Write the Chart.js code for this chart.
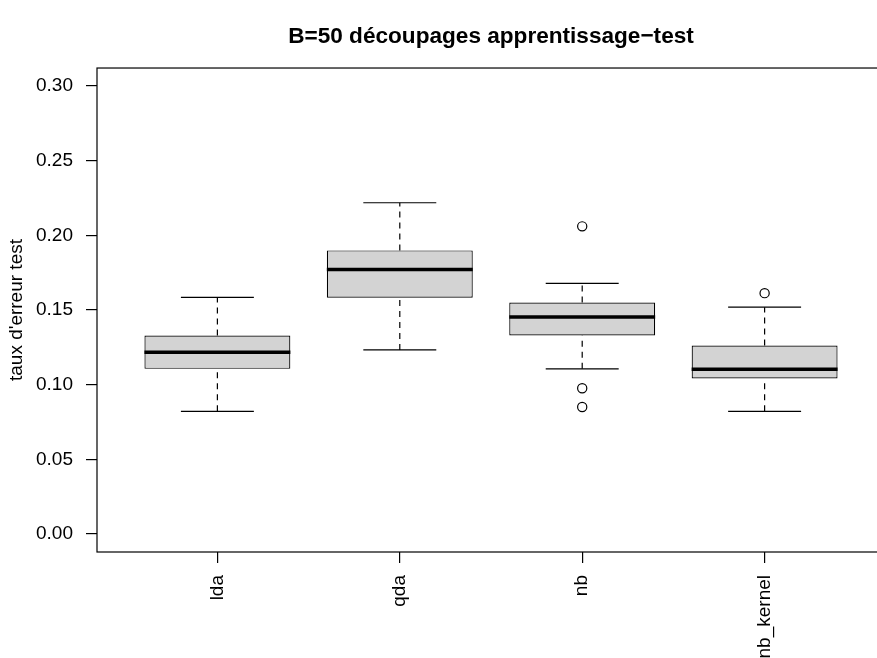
<!DOCTYPE html>
<html>
<head>
<meta charset="utf-8">
<script src="https://cdn.jsdelivr.net/npm/chart.js@4/dist/chart.umd.min.js"></script>
<style>
  html, body { margin: 0; padding: 0; background: #fff; overflow: hidden; }
  #wrap { width: 877px; height: 658px; overflow: hidden; }
</style>
</head>
<body>
<div id="wrap"><canvas id="box" width="900" height="700"></canvas></div>
<script>
'use strict';

// ─── 데이터 ─────────────────────────────────────────
const groups   = ['lda', 'qda', 'nb', 'nb_kernel'];
const whiskLo  = [0.0822, 0.1233, 0.1106, 0.0822];
const q1       = [0.1106, 0.1582, 0.1329, 0.1041];
const medians  = [0.1218, 0.1771, 0.1454, 0.1104];
const q3       = [0.1329, 0.1899, 0.1550, 0.1262];
const whiskHi  = [0.1584, 0.2218, 0.1678, 0.1519];
const outliers = [[], [], [0.2060, 0.0976, 0.0851], [0.1613]];
const yTicks   = [0.00, 0.05, 0.10, 0.15, 0.20, 0.25, 0.30];

// ─── 스타일 ───────────────────────────────────────────────
const FONT = 'Liberation Sans, Arial, Helvetica, sans-serif';
const FS = 19;
const BOX_HALF = 0.4;
const CAP_HALF = 0.2;

function seg(data, width, dash) {
  return {
    type: 'line', data, borderColor: '#000', borderWidth: width,
    borderDash: dash || [], pointRadius: 0, fill: false, tension: 0, order: 1
  };
}

const datasets = [{
  type: 'bar',
  data: groups.map((g, i) => ({ x: i + 1, y: [q1[i], q3[i]] })),
  backgroundColor: '#d3d3d3',
  borderColor: '#000',
  borderWidth: 1.2,
  borderSkipped: false,
  barPercentage: 2 * BOX_HALF,
  categoryPercentage: 1,
  order: 3
}];

groups.forEach((g, i) => {
  const x = i + 1;
  datasets.push(seg([{ x, y: q3[i] }, { x, y: whiskHi[i] }], 1.2, [6, 5]));
  datasets.push(seg([{ x, y: whiskLo[i] }, { x, y: q1[i] }], 1.2, [6, 5]));
  datasets.push(seg([{ x: x - CAP_HALF, y: whiskHi[i] }, { x: x + CAP_HALF, y: whiskHi[i] }], 1.2));
  datasets.push(seg([{ x: x - CAP_HALF, y: whiskLo[i] }, { x: x + CAP_HALF, y: whiskLo[i] }], 1.2));
  const m = seg([{ x: x - BOX_HALF, y: medians[i] }, { x: x + BOX_HALF, y: medians[i] }], 3.5);
  m.order = 0;
  datasets.push(m);
});

const outPts = [];
outliers.forEach((arr, i) => arr.forEach(v => outPts.push({ x: i + 1, y: v })));
datasets.push({
  type: 'line', data: outPts, showLine: false,
  pointRadius: 4.6, pointBorderColor: '#000', pointBackgroundColor: 'rgba(0,0,0,0)',
  pointBorderWidth: 1.2, order: 0
});

// 플롯 테두리
const plotBox = {
  id: 'plotBox',
  afterDraw(chart) {
    const { ctx, chartArea: a } = chart;
    ctx.save();
    ctx.strokeStyle = '#000';
    ctx.lineWidth = 1.2;
    ctx.strokeRect(a.left, a.top, a.right - a.left, a.bottom - a.top);
    ctx.restore();
  }
};

const tickGrid = {
  drawOnChartArea: false, drawTicks: true, tickLength: 11,
  color: '#000', lineWidth: 1.2, offset: false
};

new Chart(document.getElementById('box'), {
  type: 'bar',
  data: { datasets },
  plugins: [plotBox],
  options: {
    responsive: false,
    animation: false,
    devicePixelRatio: 1,
    layout: { padding: { left: 0, right: 15, top: 0, bottom: 0 } },
    plugins: {
      legend: { display: false },
      tooltip: { enabled: false },
      title: {
        display: true,
        fullSize: false,
        text: 'B=50 découpages apprentissage−test',
        color: '#000',
        font: { family: FONT, size: 22.6, weight: 'bold', lineHeight: 1.2 },
        padding: { top: 23.5, bottom: 17.4 }
      }
    },
    scales: {
      x: {
        type: 'linear',
        offset: false,
        min: 0.34,
        max: 4.66,
        afterBuildTicks: s => { s.ticks = groups.map((g, i) => ({ value: i + 1 })); },
        afterFit: s => { s.height = 148; },
        ticks: {
          autoSkip: false, minRotation: 90, maxRotation: 90, padding: 12,
          color: '#000', font: { family: FONT, size: FS },
          callback: v => groups[Math.round(v) - 1]
        },
        grid: tickGrid,
        border: { display: false }
      },
      y: {
        min: -0.012,
        max: 0.312,
        afterBuildTicks: s => { s.ticks = yTicks.map(v => ({ value: v })); },
        afterFit: s => { s.width = 97; },
        ticks: {
          padding: 13, color: '#000', font: { family: FONT, size: FS },
          callback: v => v.toFixed(2)
        },
        grid: tickGrid,
        border: { display: false },
        title: {
          display: true, text: "taux d'erreur test", color: '#000',
          font: { family: FONT, size: FS }, padding: { top: 5, bottom: 0 }
        }
      }
    }
  }
});
</script>
</body>
</html>
